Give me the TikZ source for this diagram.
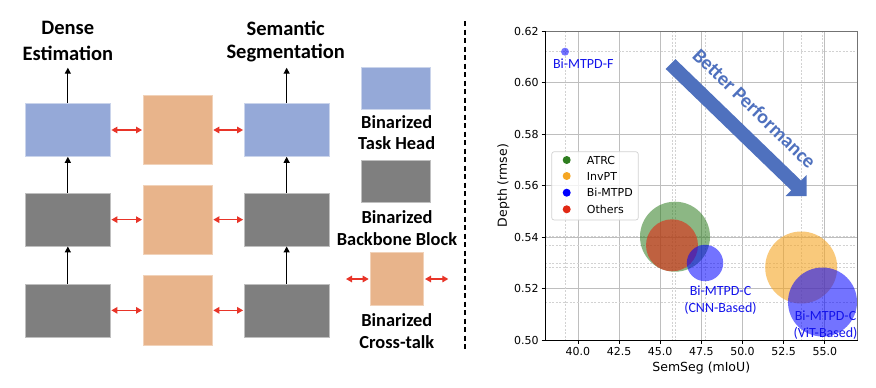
\documentclass[tikz,border=0pt]{standalone}
\usepackage{fontspec}
\setmainfont{Carlito}
\newfontfamily\dejavu{DejaVu Sans}
\usetikzlibrary{arrows.meta}
\definecolor{headblue}{RGB}{149,169,216}
\definecolor{blockgray}{RGB}{127,127,127}
\definecolor{ctorange}{RGB}{232,180,139}
\definecolor{arrred}{RGB}{232,52,40}
\definecolor{perfblue}{RGB}{79,113,190}
\definecolor{atrcgreen}{RGB}{46,125,31}
\definecolor{invorange}{RGB}{245,166,35}
\definecolor{labblue}{RGB}{20,20,235}
\definecolor{othred}{RGB}{225,40,20}
\definecolor{gridc}{RGB}{190,190,190}
\tikzset{
  boxbase/.style={rectangle, inner sep=0pt, line width=0.6pt},
  headbox/.style={boxbase, fill=headblue, draw=headblue!50!white, minimum width=84.5pt, minimum height=53pt},
  graybox/.style={boxbase, fill=blockgray, draw=blockgray!50!white, minimum width=84.5pt, minimum height=53pt},
  ctbox/.style={boxbase, fill=ctorange, draw=ctorange!60!white, minimum width=68.7pt, minimum height=69.2pt},
  redarrow/.style={draw=arrred, line width=1.3pt, {Triangle[length=6pt,width=6.5pt]}-{Triangle[length=6pt,width=6.5pt]}, shorten <=1pt, shorten >=1pt},
  uparrow/.style={draw=black, line width=1.2pt, -{Triangle[length=6pt,width=6pt]}},
  bigtext/.style={font=\bfseries\fontsize{20.5}{24}\selectfont, align=center},
  legtext/.style={font=\bfseries\fontsize{18.4}{21.7}\selectfont, align=center},
  ticklab/.style={font=\dejavu\fontsize{11}{13}\selectfont, inner sep=0pt},
  axlab/.style={font=\dejavu\fontsize{12.5}{15}\selectfont, inner sep=0pt},
  ptlab/.style={font=\fontsize{14}{17.5}\selectfont, text=labblue, align=center, inner sep=0pt},
  guide/.style={gridc!70!white, line width=0.5pt, dash pattern=on 2pt off 1.5pt},
}
\begin{document}
\begin{tikzpicture}[x=1pt,y=-1pt]
\useasboundingbox[fill=white] (0,0) rectangle (876,388);

% ---------- left diagram ----------
\node[headbox] (h1) at (67.85,130) {};
\node[graybox] (g1) at (67.85,219.65) {};
\node[graybox] (b1) at (67.85,310.35) {};
\node[headbox] (h3) at (286.65,130) {};
\node[graybox] (g3) at (286.65,219.65) {};
\node[graybox] (b3) at (286.65,310.35) {};
\node[ctbox] (o1) at (177.65,129.65) {};
\node[ctbox] (o2) at (177.65,219.5) {};
\node[ctbox] (o3) at (177.65,310.35) {};

\node[bigtext] (t1a) at (67.85,28.3) {Dense};
\node[bigtext] (t1b) at (67.85,53.3) {Estimation};
\node[bigtext] (t3a) at (285.7,28.3) {Semantic};
\node[bigtext] (t3b) at (285.7,53.3) {Segmentation};

\coordinate (out1) at (67.85,67.7);
\coordinate (out3) at (286.65,67.7);
\draw[uparrow] (h1.north) -- (out1);
\draw[uparrow] (h3.north) -- (out3);
\draw[uparrow] (g1.north) -- (h1.south);
\draw[uparrow] (g3.north) -- (h3.south);
\draw[uparrow] (b1.north) -- (g1.south);
\draw[uparrow] (b3.north) -- (g3.south);

\draw[redarrow] (h1.east) -- (h1.east -| o1.west);
\draw[redarrow] (h3.west -| o1.east) -- (h3.west);
\draw[redarrow] (g1.east) -- (g1.east -| o2.west);
\draw[redarrow] (g3.west -| o2.east) -- (g3.west);
\draw[redarrow] (b1.east) -- (b1.east -| o3.west);
\draw[redarrow] (b3.west -| o3.east) -- (b3.west);

% legend of the left diagram
\node[boxbase, fill=headblue, draw=headblue!50!white, minimum width=68.6pt, minimum height=41.6pt] (lh) at (396,88.5) {};
\node[legtext] (lht) at (396.7,132.5) {Binarized\\Task Head};
\node[boxbase, fill=blockgray, draw=blockgray!50!white, minimum width=68.6pt, minimum height=41.3pt] (lg) at (396,181.35) {};
\node[legtext] (lgt) at (397,228) {Binarized\\Backbone Block};
\node[boxbase, fill=ctorange, draw=ctorange!60!white, minimum width=53.7pt, minimum height=53.4pt] (lo) at (396.85,279) {};
\node[legtext] (lot) at (396.85,330.8) {Binarized\\Cross-talk};
\coordinate (la) at (345,279);
\coordinate (lb) at (449.3,279);
\draw[redarrow] (la) -- (lo.west);
\draw[redarrow] (lo.east) -- (lb);

% separator
\draw[black, line width=1.2pt, dash pattern=on 5pt off 3.5pt] (465,21) -- (465,352);

% ---------- plot ----------
% major grid
\foreach \v/\t in {40/40.0,42.5/42.5,45/45.0,47.5/47.5,50/50.0,52.5/52.5,55/55.0} {
  \pgfmathsetmacro\xx{545+(\v-38)*16.458}
  \draw[gridc, line width=0.8pt] (\xx,31) -- (\xx,340);
  \draw[black, line width=0.8pt] (\xx,340) -- (\xx,343.5);
  \node[ticklab] at (\xx,351.7) {\t};
}
\foreach \v/\t in {0.50/0.50,0.52/0.52,0.54/0.54,0.56/0.56,0.58/0.58,0.60/0.60,0.62/0.62} {
  \pgfmathsetmacro\yy{340-(\v-0.5)*2575}
  \draw[gridc, line width=0.8pt] (545,\yy) -- (857.7,\yy);
  \draw[black, line width=0.8pt] (541.5,\yy) -- (545,\yy);
  \node[ticklab, anchor=east] at (538.7,\yy) {\t};
}
% data-point guide lines
\foreach \xx in {565,672,675,705,801,822.5}
  \draw[guide] (\xx,31) -- (\xx,340);
\foreach \yy in {51.7,236.7,245.3,263,267.5,302}
  \draw[guide] (545,\yy) -- (857.7,\yy);

% bubbles
\begin{scope}
\clip (545,31) rectangle (857.7,340);
\fill[atrcgreen, fill opacity=0.55] (675,236.7) circle (35);
\fill[othred, fill opacity=0.6] (672,245.3) circle (26);
\fill[blue, fill opacity=0.55] (705,263) circle (18.2);
\fill[invorange, fill opacity=0.6] (801.2,267.5) circle (36);
\fill[blue, fill opacity=0.55] (822.5,302) circle (34.5);
\fill[blue, fill opacity=0.55] (565,51.7) circle (4);
\end{scope}

% spines
\draw[black!55, line width=1pt] (545,31) -- (857.7,31) -- (857.7,340);
\draw[black, line width=1pt] (545,31) -- (545,340) -- (857.7,340);

% point labels
\node[ptlab] (lf) at (583.3,63.3) {Bi-MTPD-F};
\node[ptlab] (lc) at (720.5,300.3) {Bi-MTPD-C\\(CNN-Based)};
\node[ptlab] (lv) at (825.5,325.3) {Bi-MTPD-C\\(ViT-Based)};

% legend
\draw[rounded corners=2.5pt, draw=black!18, line width=0.7pt, fill=white, fill opacity=0.8] (551.7,151.7) rectangle (638.3,220);
\foreach \yy/\c/\t in {160/atrcgreen/ATRC,176/invorange/InvPT,192.7/blue/Bi-MTPD,209.3/othred/Others} {
  \fill[\c] (566.7,\yy) circle (4);
  \node[ticklab, anchor=west] at (586.7,\yy) {\t};
}

% axis labels
\node[axlab] (xl) at (701.3,368) {SemSeg (mIoU)};
\node[axlab, rotate=90] (yl) at (503.3,185.5) {Depth (rmse)};

% better performance arrow
\fill[perfblue] (675.4,59.1) -- (801.1,180.6) -- (806.7,175) -- (806.7,196) -- (785.7,196) -- (791.3,190.4) -- (665.6,68.9) -- cycle;
\node[font=\bfseries\fontsize{20}{23}\selectfont, text=perfblue, rotate=-44, inner sep=0pt] (bp) at (754.5,108.5) {Better Performance};
\end{tikzpicture}
\end{document}
